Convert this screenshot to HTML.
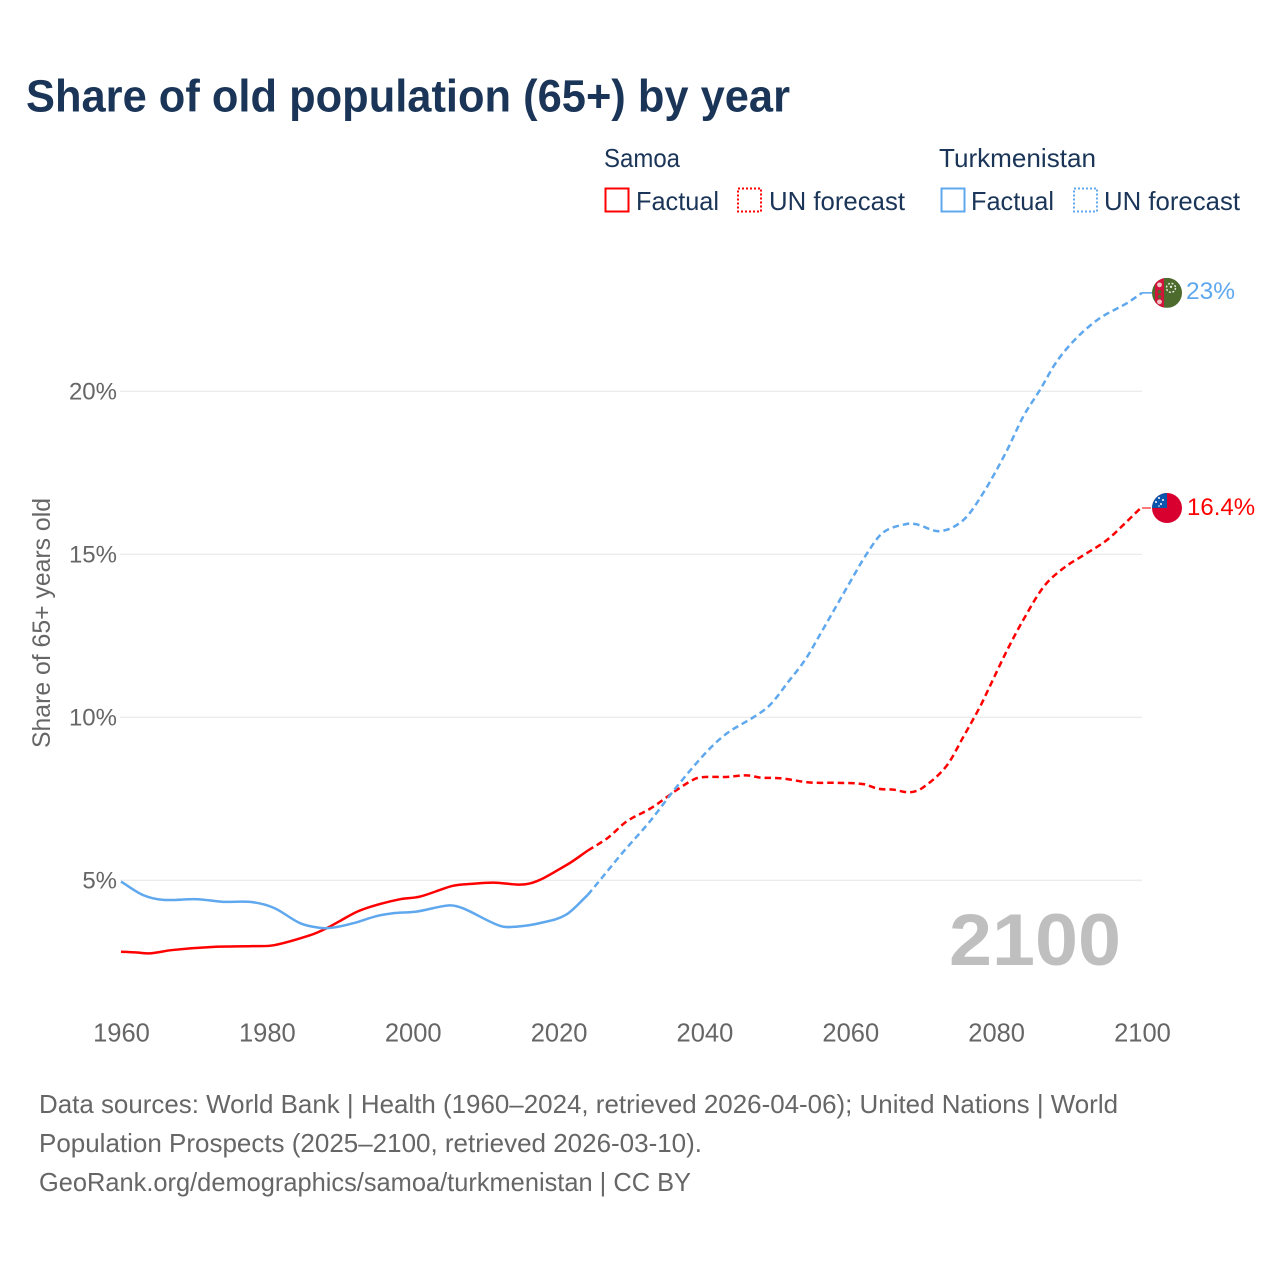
<!DOCTYPE html>
<html lang="en">
<head>
<meta charset="utf-8">
<title>Share of old population (65+) by year</title>
<style>
html,body{margin:0;padding:0;background:#fff;}
svg{display:block;font-family:"Liberation Sans",sans-serif;}
</style>
</head>
<body>
<svg id="chart" width="1280" height="1280" viewBox="0 0 1280 1280" xmlns="http://www.w3.org/2000/svg">
  <rect x="0" y="0" width="1280" height="1280" fill="#ffffff"/>
  <text x="26" y="111.5" font-size="45" font-weight="700" fill="#1a3557" textLength="764" lengthAdjust="spacingAndGlyphs">Share of old population (65+) by year</text>

  <g font-size="26" fill="#1a3557">
    <text x="604" y="167" textLength="76" lengthAdjust="spacingAndGlyphs">Samoa</text>
    <text x="939" y="167" textLength="157" lengthAdjust="spacingAndGlyphs">Turkmenistan</text>
    <rect x="605.5" y="188.5" width="23" height="23" fill="none" stroke="#ff0000" stroke-width="2"/>
    <text x="636" y="210" textLength="83" lengthAdjust="spacingAndGlyphs">Factual</text>
    <rect x="738" y="188.5" width="23" height="23" fill="none" stroke="#ff0000" stroke-width="2" stroke-dasharray="2 2"/>
    <text x="769" y="210" textLength="136" lengthAdjust="spacingAndGlyphs">UN forecast</text>
    <rect x="941.5" y="188.5" width="23" height="23" fill="none" stroke="#5fa8ee" stroke-width="2"/>
    <text x="971" y="210" textLength="83" lengthAdjust="spacingAndGlyphs">Factual</text>
    <rect x="1074" y="188.5" width="23" height="23" fill="none" stroke="#5fa8ee" stroke-width="2" stroke-dasharray="2 2"/>
    <text x="1104" y="210" textLength="136" lengthAdjust="spacingAndGlyphs">UN forecast</text>
  </g>

  <text transform="translate(50,623) rotate(-90)" text-anchor="middle" font-size="25" fill="#666666" textLength="250" lengthAdjust="spacingAndGlyphs">Share of 65+ years old</text>

  <g id="grid"></g>
  <g id="y-ticks"></g>
  <g id="x-ticks"></g>

  <text x="1121" y="965" text-anchor="end" font-size="73" font-weight="700" fill="#bfbfbf" textLength="172" lengthAdjust="spacingAndGlyphs">2100</text>

  <g id="series"></g>

  <defs>
    <clipPath id="flag-clip"><circle cx="0" cy="0" r="15"/></clipPath>
  </defs>
  <g id="flag-turkmenistan">
    <g clip-path="url(#flag-clip)">
      <rect x="-15" y="-15" width="30" height="30" fill="#4c6b2c"/>
      <rect x="-12" y="-15" width="9" height="30" fill="#d2143c"/>
      <circle cx="-7.5" cy="-8" r="2.4" fill="#f0c8c8"/>
      <circle cx="-7.5" cy="-1" r="1.8" fill="#4c6b2c"/>
      <circle cx="-7.5" cy="4" r="1.8" fill="#4c6b2c"/>
      <circle cx="-7.5" cy="9" r="2.4" fill="#f0c8c8"/>
      <circle cx="4" cy="-5" r="4.5" fill="none" stroke="#e8ece0" stroke-width="1.4" stroke-dasharray="2 1.6"/>
      <circle cx="4" cy="-6" r="1.2" fill="#e8ece0"/>
    </g>
  </g>
  <g id="flag-samoa">
    <g clip-path="url(#flag-clip)">
      <rect x="-15" y="-15" width="30" height="30" fill="#d8002f"/>
      <rect x="-15" y="-15" width="15" height="15" fill="#0b56ac"/>
      <circle cx="-8" cy="-10" r="1" fill="#ffffff"/>
      <circle cx="-4" cy="-8" r="1" fill="#ffffff"/>
      <circle cx="-11" cy="-6" r="1" fill="#ffffff"/>
      <circle cx="-6" cy="-4" r="1" fill="#ffffff"/>
      <circle cx="-8" cy="-2" r="0.8" fill="#ffffff"/>
    </g>
  </g>
  <text id="end-label-turkmenistan" font-size="24.5" fill="#5fa8ee"></text>
  <text id="end-label-samoa" font-size="24" fill="#ff0000"></text>

  <g font-size="26" fill="#666666">
    <text x="39" y="1113" textLength="1079" lengthAdjust="spacingAndGlyphs">Data sources: World Bank | Health (1960–2024, retrieved 2026-04-06); United Nations | World</text>
    <text x="39" y="1152" textLength="663" lengthAdjust="spacingAndGlyphs">Population Prospects (2025–2100, retrieved 2026-03-10).</text>
    <text x="39" y="1191" textLength="652" lengthAdjust="spacingAndGlyphs">GeoRank.org/demographics/samoa/turkmenistan | CC BY</text>
  </g>
</svg>
<script>
var xTickYears = [1960, 1980, 2000, 2020, 2040, 2060, 2080, 2100];
var yTickValues = [5, 10, 15, 20];

var samoaFactualYears = [1960, 1962, 1964, 1967, 1973, 1978, 1981, 1986, 1988.2, 1990, 1992.4, 1995, 1998.3, 2001, 2005.5, 2008, 2011, 2016, 2021.1, 2024];
var samoaFactualValues = [2.81, 2.79, 2.76, 2.86, 2.96, 2.98, 3.01, 3.32, 3.53, 3.75, 4.04, 4.24, 4.42, 4.50, 4.83, 4.89, 4.93, 4.90, 5.47, 5.91];
var samoaForecastYears = [2024, 2026.8, 2029.3, 2032.8, 2036.2, 2038.7, 2040.1, 2043, 2045.8, 2047.7, 2050.4, 2054.5, 2058.2, 2061.8, 2063.8, 2065.9, 2068.2, 2070, 2073.2, 2075.5, 2077.8, 2078.9, 2081.4, 2083.7, 2086.5, 2089.2, 2091.9, 2095.2, 2097.9, 2099.8, 2100];
var samoaForecastValues = [5.91, 6.31, 6.80, 7.23, 7.77, 8.11, 8.17, 8.17, 8.22, 8.15, 8.13, 8.00, 7.99, 7.95, 7.81, 7.78, 7.70, 7.85, 8.51, 9.40, 10.33, 10.84, 12.01, 12.98, 14.00, 14.57, 14.96, 15.44, 16.00, 16.41, 16.42];

var turkFactualYears = [1960, 1963, 1965.8, 1970.4, 1974, 1978, 1981, 1984.6, 1987.3, 1989.1, 1991.8, 1995, 1997.3, 2000.5, 2005, 2006.9, 2012, 2014.3, 2017.5, 2021, 2024];
var turkFactualValues = [4.96, 4.55, 4.40, 4.42, 4.34, 4.33, 4.15, 3.68, 3.54, 3.55, 3.68, 3.90, 3.99, 4.04, 4.23, 4.14, 3.60, 3.58, 3.69, 3.94, 4.55];
var turkForecastYears = [2024, 2025.7, 2028.9, 2032.5, 2036.2, 2040.3, 2043.1, 2046.7, 2049, 2051.5, 2053.8, 2055.8, 2060, 2062.3, 2064.5, 2067.7, 2069.1, 2072.3, 2075.5, 2078.2, 2081.4, 2083.7, 2086, 2088.3, 2091, 2094.2, 2097.9, 2100];
var turkForecastValues = [4.55, 5.01, 5.88, 6.80, 7.87, 8.94, 9.51, 10.00, 10.38, 11.09, 11.76, 12.52, 14.16, 15.03, 15.67, 15.93, 15.92, 15.71, 16.05, 16.87, 18.15, 19.22, 20.04, 20.91, 21.63, 22.24, 22.70, 23.02];

var samoaEndLabel = "16.4%";
var turkEndLabel = "23%";

var NS = "http://www.w3.org/2000/svg";
function xScale(year) { return 121 + (year - 1960) * (1142 - 121) / 140; }
function yScale(value) { return 880.3 - (value - 5) * 32.6; }

function curvePath(years, values) {
  var xs = years.map(xScale);
  var ys = values.map(yScale);
  var n = xs.length;
  var slopes = [];
  for (var i = 0; i < n; i++) {
    var a = Math.max(i - 1, 0);
    var b = Math.min(i + 1, n - 1);
    slopes.push((ys[b] - ys[a]) / (xs[b] - xs[a]));
  }
  var d = "M" + xs[0].toFixed(2) + " " + ys[0].toFixed(2);
  for (var j = 0; j < n - 1; j++) {
    var dx = (xs[j + 1] - xs[j]) / 3;
    d += "C" + (xs[j] + dx).toFixed(2) + " " + (ys[j] + slopes[j] * dx).toFixed(2) + " " +
      (xs[j + 1] - dx).toFixed(2) + " " + (ys[j + 1] - slopes[j + 1] * dx).toFixed(2) + " " +
      xs[j + 1].toFixed(2) + " " + ys[j + 1].toFixed(2);
  }
  return d;
}

var grid = document.getElementById("grid");
var yTicks = document.getElementById("y-ticks");
yTickValues.forEach(function (v) {
  var line = document.createElementNS(NS, "line");
  
  
  line.setAttribute("x1", xScale(1960) - 1);
  line.setAttribute("x2", xScale(2100));
  line.setAttribute("y1", yScale(v));
  line.setAttribute("y2", yScale(v));
  line.setAttribute("stroke", "#e6e6e6");
  line.setAttribute("stroke-width", "1");
  grid.appendChild(line);

  var t = document.createElementNS(NS, "text");
  
  
  t.setAttribute("x", 117);
  t.setAttribute("y", yScale(v) + 8);
  t.setAttribute("text-anchor", "end");
  t.setAttribute("font-size", "24");
  t.setAttribute("fill", "#666666");
  t.textContent = v + "%";
  yTicks.appendChild(t);
});

var xTicks = document.getElementById("x-ticks");
xTickYears.forEach(function (year) {
  var t = document.createElementNS(NS, "text");
  
  
  t.setAttribute("x", xScale(year) + 0.5);
  t.setAttribute("y", 1041.5);
  t.setAttribute("text-anchor", "middle");
  t.setAttribute("font-size", "25.5");
  t.setAttribute("fill", "#666666");
  t.textContent = year;
  xTicks.appendChild(t);
});

var seriesGroup = document.getElementById("series");

var samoaFactualLine = document.createElementNS(NS, "path");


samoaFactualLine.setAttribute("d", curvePath(samoaFactualYears, samoaFactualValues));
samoaFactualLine.setAttribute("fill", "none");
samoaFactualLine.setAttribute("stroke", "#ff0000");
samoaFactualLine.setAttribute("stroke-width", "2.5");
seriesGroup.appendChild(samoaFactualLine);

var samoaForecastLine = document.createElementNS(NS, "path");


samoaForecastLine.setAttribute("d", curvePath(samoaForecastYears, samoaForecastValues));
samoaForecastLine.setAttribute("fill", "none");
samoaForecastLine.setAttribute("stroke", "#ff0000");
samoaForecastLine.setAttribute("stroke-width", "2.5");
samoaForecastLine.setAttribute("stroke-dasharray", "6.5 4");
seriesGroup.appendChild(samoaForecastLine);

var turkFactualLine = document.createElementNS(NS, "path");


turkFactualLine.setAttribute("d", curvePath(turkFactualYears, turkFactualValues));
turkFactualLine.setAttribute("fill", "none");
turkFactualLine.setAttribute("stroke", "#5fa8ee");
turkFactualLine.setAttribute("stroke-width", "2.5");
seriesGroup.appendChild(turkFactualLine);

var turkForecastLine = document.createElementNS(NS, "path");


turkForecastLine.setAttribute("d", curvePath(turkForecastYears, turkForecastValues));
turkForecastLine.setAttribute("fill", "none");
turkForecastLine.setAttribute("stroke", "#5fa8ee");
turkForecastLine.setAttribute("stroke-width", "2.5");
turkForecastLine.setAttribute("stroke-dasharray", "6.5 4");
seriesGroup.appendChild(turkForecastLine);

var endX = xScale(2100);
var samoaEndY = yScale(samoaForecastValues[samoaForecastValues.length - 1]);
var turkEndY = yScale(turkForecastValues[turkForecastValues.length - 1]);

var samoaConnector = document.createElementNS(NS, "line");


samoaConnector.setAttribute("x1", endX);
samoaConnector.setAttribute("x2", endX + 9);
samoaConnector.setAttribute("y1", samoaEndY);
samoaConnector.setAttribute("y2", samoaEndY);
samoaConnector.setAttribute("stroke", "#ff0000");
samoaConnector.setAttribute("stroke-opacity", "0.65");
samoaConnector.setAttribute("stroke-width", "1.6");
seriesGroup.appendChild(samoaConnector);

var turkConnector = document.createElementNS(NS, "line");


turkConnector.setAttribute("x1", endX);
turkConnector.setAttribute("x2", endX + 10);
turkConnector.setAttribute("y1", turkEndY);
turkConnector.setAttribute("y2", turkEndY);
turkConnector.setAttribute("stroke", "#5fa8ee");
turkConnector.setAttribute("stroke-width", "1.6");
seriesGroup.appendChild(turkConnector);

document.getElementById("flag-samoa").setAttribute("transform", "translate(" + (endX + 25) + "," + samoaEndY + ")");
document.getElementById("flag-turkmenistan").setAttribute("transform", "translate(" + (endX + 25) + "," + turkEndY + ")");

var samoaLabel = document.getElementById("end-label-samoa");
samoaLabel.setAttribute("x", endX + 45);
samoaLabel.setAttribute("y", samoaEndY + 7);
samoaLabel.textContent = samoaEndLabel;

var turkLabel = document.getElementById("end-label-turkmenistan");
turkLabel.setAttribute("x", endX + 44);
turkLabel.setAttribute("y", turkEndY + 6);
turkLabel.textContent = turkEndLabel;
</script>
</body>
</html>
